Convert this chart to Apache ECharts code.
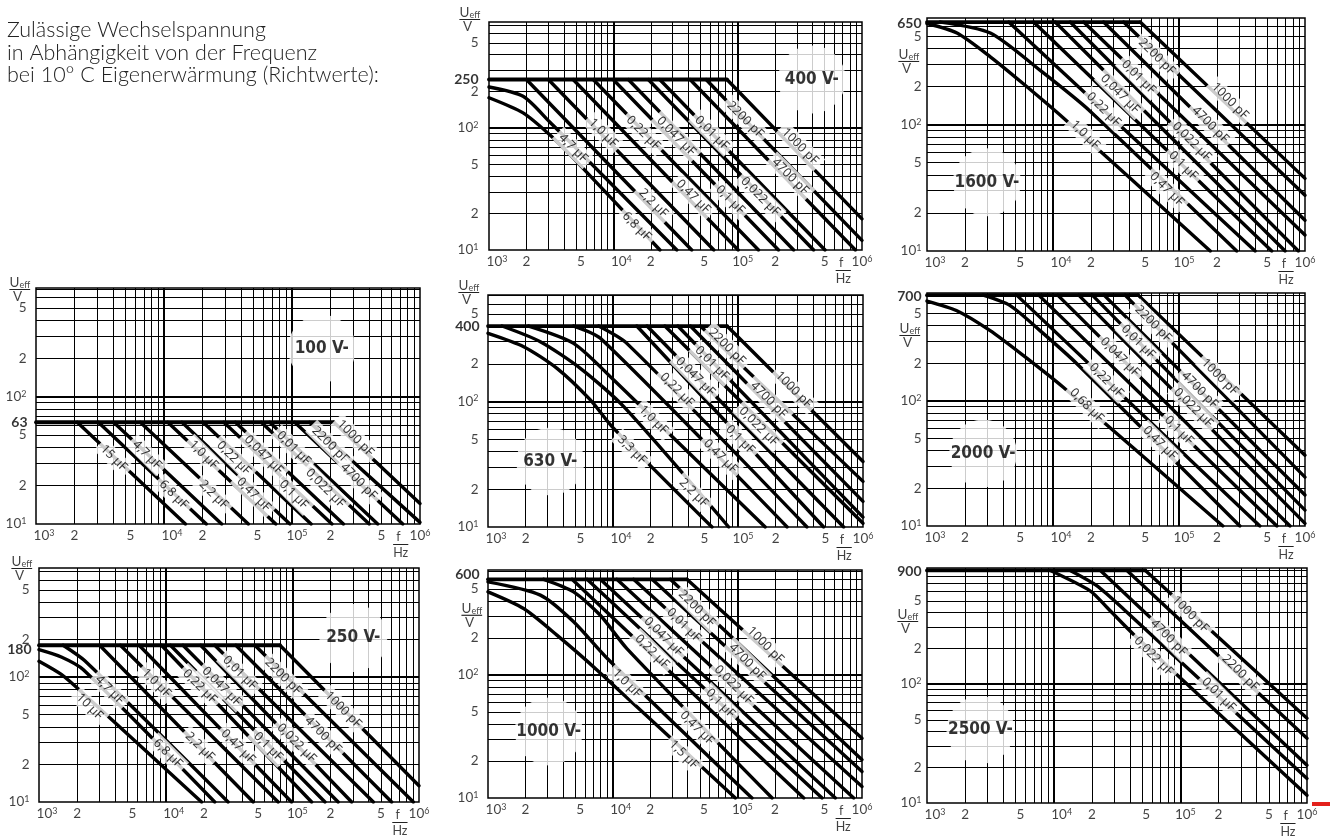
<!DOCTYPE html>
<html><head><meta charset="utf-8">
<script src="https://cdn.jsdelivr.net/npm/echarts@6/dist/echarts.min.js"></script>
<style>html,body{margin:0;padding:0;background:#fff}#c{width:1330px;height:836px}</style>
</head><body><div id="c"></div>
<script>
// ---------- shared axis ticks / grid values ----------
const F_TICKS = [1e3, 2e3, 5e3, 1e4, 2e4, 5e4, 1e5, 2e5, 5e5, 1e6];
const F_TICK_TEXT = ['10{s|3}', '2', '5', '10{s|4}', '2', '5', '10{s|5}', '2', '5', '10{s|6}'];
const U_TICKS = [10, 20, 50, 100, 200, 500];
const U_TICK_TEXT = ['10{s|1}', '2', '5', '10{s|2}', '2', '5'];
const F_GRID = [2e3,3e3,4e3,5e3,6e3,7e3,8e3,9e3,1e4,2e4,3e4,4e4,5e4,6e4,7e4,8e4,9e4,1e5,2e5,3e5,4e5,5e5,6e5,7e5,8e5,9e5];
const F_GRID_MAJOR = [1e4, 1e5];
const U_GRID = [20,30,40,50,60,70,80,90,100,200,300,400,500,600,700,800,900];
const U_GRID_MAJOR = [100];
const F_UNIT_AT = 700000;

// ---------- 400 V- ----------
const P400_TITLE = '400 V-';
const P400_UMAX = 250;
const P400_FLAT = [[1000, 250], [82000, 250]];
const P400_NAMES = ['1000 pF','2200 pF','4700 pF','0,01 µF','0,022 µF','0,047 µF','0,1 µF','0,22 µF','0,47 µF','1,0 µF','2,2 µF','4,7 µF','6,8 µF'];
const P400_CURVES = [
  [[82000,250],[1e6,18]],
  [[55700,250],[1e6,12]],
  [[41400,250],[885000,10]],
  [[23600,250],[504000,10]],
  [[19100,250],[408000,10]],
  [[13200,250],[282000,10]],
  [[9970,250],[213000,10]],
  [[6890,250],[147000,10]],
  [[4750,250],[101000,10]],
  [[3000,250],[64300,10]],
  [[2000,250],[42700,10]],
  [[1000,217],[1880,182],[3080,112],[4750,72],[32400,10]],
  [[1000,177],[1880,133],[3080,88],[4750,57],[23700,10]]
];
const P400_LABEL_AT = [[318000,70.6],[115000,117],[265000,40],[62000,91],[152000,27.4],[32000,85.5],[87000,25.8],[17400,91],[44000,27.4],[8300,91],[21000,24.2],[4750,68.5],[15400,15.6]];

// ---------- 1600 V- ----------
const P1600_TITLE = '1600 V-';
const P1600_UMAX = 650;
const P1600_FLAT = [[1000, 650], [49200, 650]];
const P1600_NAMES = ['1000 pF','2200 pF','4700 pF','0,01 µF','0,022 µF','0,047 µF','0,1 µF','0,22 µF','0,47 µF','1,0 µF'];
const P1600_CURVES = [
  [[49200,650],[1e6,37.6]],
  [[36300,650],[1e6,27.6]],
  [[25200,650],[1e6,17.5]],
  [[17500,650],[1e6,13.4]],
  [[13700,650],[886000,10]],
  [[10400,650],[695000,10]],
  [[7010,650],[544000,10]],
  [[4450,650],[402000,10]],
  [[1276,650],[3180,532],[7920,269],[19700,128],[287000,10]],
  [[1000,633],[1730,532],[3180,345],[5850,210],[12100,113],[177000,10]]
];
const P1600_LABEL_AT = [[254000,154],[66700,345],[177000,100],[47800,238],[126000,73.5],[34100,175],[108000,47.5],[25200,132],[80000,30.8],[18000,83]];

// ---------- 100 V- ----------
const P100_TITLE = '100 V-';
const P100_UMAX = 63;
const P100_FLAT = [[1000, 63], [212000, 63]];
const P100_NAMES = ['1000 pF','2200 pF','4700 pF','0,01 µF','0,022 µF','0,047 µF','0,1 µF','0,22 µF','0,47 µF','1,0 µF','2,2 µF','4,7 µF','6,8 µF','15 µF'];
const P100_CURVES = [
  [[212000,63],[1e6,14.5]],
  [[137000,63],[1e6,10.3]],
  [[105000,63],[733000,10]],
  [[66900,63],[467000,10]],
  [[57500,63],[401000,10]],
  [[36100,63],[252000,10]],
  [[29300,63],[205000,10]],
  [[20200,63],[141000,10]],
  [[13800,63],[96300,10]],
  [[10700,63],[74700,10]],
  [[6530,63],[45600,10]],
  [[4040,63],[28200,10]],
  [[3070,63],[21400,10]],
  [[2100,63],[14700,10]]
];
const P100_LABEL_AT = [[313000,47.2],[199000,41.8],[332000,21.6],[103000,39.4],[182000,19.1],[60100,34.9],[103000,17],[35000,32.9],[50200,17],[20400,34.9],[24400,17],[7360,34.9],[11900,17],[4050,32.9]];

// ---------- 630 V- ----------
const P630_TITLE = '630 V-';
const P630_UMAX = 400;
const P630_FLAT = [[1000, 400], [81700, 400]];
const P630_NAMES = ['1000 pF','2200 pF','4700 pF','0,01 µF','0,022 µF','0,047 µF','0,1 µF','0,22 µF','0,47 µF','1,0 µF','2,2 µF','3,3 µF'];
const P630_CURVES = [
  [[81700,400],[1e6,33.3]],
  [[50000,400],[1e6,23.1]],
  [[41600,400],[1e6,16]],
  [[33000,400],[1e6,12]],
  [[26000,400],[1e6,10.7]],
  [[18700,400],[700000,10]],
  [[15500,400],[484000,10]],
  [[7674,400],[12900,291],[356000,10]],
  [[4842,400],[7930,319],[247000,10]],
  [[2113,400],[4842,291],[10100,149],[165000,10]],
  [[1294,400],[2620,300],[5480,184],[12200,91],[84200,10]],
  [[1000,350],[1930,274],[3565,184],[6590,103],[9820,63.2],[61900,10]]
];
const P630_LABEL_AT = [[279000,124],[81700,274],[176000,103],[61900,202],[146000,63.2],[45600,158],[104000,49.6],[32500,124],[72300,36.5],[21100,71.4],[44200,18.7],[14200,41.2]];

// ---------- 2000 V- ----------
const P2000_TITLE = '2000 V-';
const P2000_UMAX = 700;
const P2000_FLAT = [[1000, 700], [47400, 700]];
const P2000_NAMES = ['1000 pF','2200 pF','4700 pF','0,01 µF','0,022 µF','0,047 µF','0,1 µF','0,22 µF','0,47 µF','0,68 µF'];
const P2000_CURVES = [
  [[47400,700],[1e6,36.8]],
  [[37300,700],[1e6,24.6]],
  [[25400,700],[1e6,17.7]],
  [[20500,700],[1e6,13.4]],
  [[16000,700],[1e6,10.5]],
  [[10900,700],[760000,10]],
  [[7700,700],[598000,10]],
  [[5150,700],[438000,10]],
  [[2790,700],[4540,580],[7850,366],[15400,199],[304000,10]],
  [[1000,628],[1710,528],[3150,366],[5800,231],[12000,129],[223000,10]]
];
const P2000_LABEL_AT = [[211000,155],[62400,414],[146000,122],[47400,296],[130000,88],[33900,224],[100000,58],[26500,146],[70500,45.9],[18500,92]];

// ---------- 250 V- ----------
const P250_TITLE = '250 V-';
const P250_UMAX = 180;
const P250_FLAT = [[1000, 180], [79800, 180]];
const P250_NAMES = ['1000 pF','2200 pF','4700 pF','0,01 µF','0,022 µF','0,047 µF','0,1 µF','0,22 µF','0,47 µF','1,0 µF','2,2 µF','4,7 µF','6,8 µF','10 µF'];
const P250_CURVES = [
  [[79800,180],[1e6,13.5]],
  [[50600,180],[902000,10]],
  [[35800,180],[608000,10]],
  [[24400,180],[436000,10]],
  [[18900,180],[294000,10]],
  [[13700,180],[230000,10]],
  [[10900,180],[181000,10]],
  [[9260,180],[142000,10]],
  [[6170,180],[98600,10]],
  [[4390,180],[77300,10]],
  [[3010,180],[49100,10]],
  [[1550,180],[2300,135],[31100,10]],
  [[1000,166],[1500,145],[2230,115],[24400,10]],
  [[1000,134],[1500,105],[2200,75],[19200,10]]
];
const P250_LABEL_AT = [[252000,54.7],[84700,101],[175000,34.4],[38500,108],[108000,29.6],[27600,84.1],[64400,27.8],[18600,84.1],[37300,27.8],[8450,89.6],[18600,27.8],[3610,79],[10400,24.5],[2510,58]];

// ---------- 1000 V- ----------
const P1000_TITLE = '1000 V-';
const P1000_UMAX = 600;
const P1000_FLAT = [[1000, 600], [39400, 600]];
const P1000_NAMES = ['1000 pF','2200 pF','4700 pF','0,01 µF','0,022 µF','0,047 µF','0,1 µF','0,22 µF','0,47 µF','1,0 µF','1,5 µF'];
const P1000_CURVES = [
  [[39400,600],[1e6,30.6]],
  [[29000,600],[1e6,20.5]],
  [[20700,600],[1e6,16.4]],
  [[14700,600],[1e6,12.4]],
  [[10800,600],[857000,10]],
  [[7960,600],[611000,10]],
  [[6230,600],[478000,10]],
  [[4720,600],[341000,10]],
  [[2800,600],[4860,474],[7960,306],[13000,164],[190000,10]],
  [[1000,571],[2630,446],[4860,271],[9020,137],[131000,10]],
  [[1000,474],[1930,347],[3570,211],[7480,110],[96400,10]]
];
const P1000_LABEL_AT = [[168000,175],[47400,347],[120000,128],[37200,254],[93500,83],[25600,205],[73100,58.9],[20700,155],[47400,37],[13000,85.5],[37200,22.5]];

// ---------- 2500 V- ----------
const P2500_TITLE = '2500 V-';
const P2500_UMAX = 900;
const P2500_FLAT = [[1000, 900], [53000, 900]];
const P2500_NAMES = ['1000 pF','2200 pF','4700 pF','0,01 µF','0,022 µF'];
const P2500_CURVES = [
  [[53000,900],[1e6,51.6]],
  [[37900,900],[1e6,35]],
  [[23400,900],[1e6,20.8]],
  [[13500,900],[22000,668],[35700,425],[1e6,16.1]],
  [[9420,900],[19400,607],[26400,439],[42800,261],[1e6,11.6]]
];
const P2500_LABEL_AT = [[120000,386],[298000,124],[80900,245],[201000,81.3],[61500,171]];

// ---------- assemble ----------
const PANELS = [
  {title:P400_TITLE, umax:P400_UMAX, flat:P400_FLAT, names:P400_NAMES, curves:P400_CURVES, labelAt:P400_LABEL_AT},
  {title:P1600_TITLE, umax:P1600_UMAX, flat:P1600_FLAT, names:P1600_NAMES, curves:P1600_CURVES, labelAt:P1600_LABEL_AT},
  {title:P100_TITLE, umax:P100_UMAX, flat:P100_FLAT, names:P100_NAMES, curves:P100_CURVES, labelAt:P100_LABEL_AT},
  {title:P630_TITLE, umax:P630_UMAX, flat:P630_FLAT, names:P630_NAMES, curves:P630_CURVES, labelAt:P630_LABEL_AT},
  {title:P2000_TITLE, umax:P2000_UMAX, flat:P2000_FLAT, names:P2000_NAMES, curves:P2000_CURVES, labelAt:P2000_LABEL_AT},
  {title:P250_TITLE, umax:P250_UMAX, flat:P250_FLAT, names:P250_NAMES, curves:P250_CURVES, labelAt:P250_LABEL_AT},
  {title:P1000_TITLE, umax:P1000_UMAX, flat:P1000_FLAT, names:P1000_NAMES, curves:P1000_CURVES, labelAt:P1000_LABEL_AT},
  {title:P2500_TITLE, umax:P2500_UMAX, flat:P2500_FLAT, names:P2500_NAMES, curves:P2500_CURVES, labelAt:P2500_LABEL_AT}
];

// layout (pixels) and label placement per panel
const LAYOUT = [
  {left:489, top:22,  width:373, height:228, ymax:740, blob:[395000,250], ueff:null, ueffOff:[-29,-2], ydist:10, umaxDist:10, umaxOff:[0,0]},
  {left:927, top:18,  width:378, height:233, ymax:700, blob:[2990,35],    ueff:314,  ueffOff:[-28,0],  ydist:5,  umaxDist:5,  umaxOff:[0,1]},
  {left:36,  top:288, width:384, height:236, ymax:715, blob:[171000,239], ueff:null, ueffOff:[-26,2],  ydist:9,  umaxDist:8,  umaxOff:[0,0]},
  {left:488, top:295, width:375, height:232, ymax:707, blob:[3150,33.3],  ueff:null, ueffOff:[-29,-2], ydist:9,  umaxDist:8,  umaxOff:[0,0]},
  {left:927, top:293, width:378, height:233, ymax:728, blob:[2790,38],    ueff:330,  ueffOff:[-27,0],  ydist:5,  umaxDist:5,  umaxOff:[0,1]},
  {left:39,  top:568, width:380, height:234, ymax:748, blob:[303000,206], ueff:null, ueffOff:[-27,1],  ydist:9,  umaxDist:7,  umaxOff:[0,4]},
  {left:488, top:570, width:374, height:228, ymax:714, blob:[3070,34.8],  ueff:303,  ueffOff:[-26,0],  ydist:9,  umaxDist:8,  umaxOff:[0,-5]},
  {left:927, top:568, width:380, height:235, ymax:944, blob:[2640,41.1],  ueff:332,  ueffOff:[-29,0],  ydist:5,  umaxDist:5,  umaxOff:[0,1]}
];
// horizontal nudge of the frequency tick labels (the powers of ten start at their tick)
const X_LABEL_NUDGE = [8, 0, 5, 8, 0, 4, 5, 0, 0, 0];

const FONT = 'Lato, "Noto Sans", sans-serif';
const LABEL_FONT = '"Noto Sans", Lato, sans-serif';
const COND = '"DejaVu Sans Condensed", "Liberation Sans Narrow", "DejaVu Sans", sans-serif';
const SUP = {fontSize: 9, lineHeight: 9, verticalAlign: 'top'};

function textSeries(i, data, label, z) {
  return {
    type: 'scatter', xAxisIndex: i, yAxisIndex: i, data: data,
    symbol: 'circle', symbolSize: 1, itemStyle: {color: 'rgba(0,0,0,0)'},
    silent: true, clip: false, animation: false, z: z || 6,
    emphasis: {disabled: true},
    label: Object.assign({show: true, formatter: function (p) { return p.name; }, color: '#111', fontFamily: FONT}, label)
  };
}

const grids = [], xAxes = [], yAxes = [], series = [];
PANELS.forEach(function (p, i) {
  const L = LAYOUT[i];
  grids.push({left: L.left, top: L.top, width: L.width, height: L.height, show: true,
    borderColor: '#000', borderWidth: 1.5, backgroundColor: '#fff', containLabel: false, outerBoundsMode: 'none'});
  const axisOff = {axisLine: {show: false}, axisTick: {show: false}, axisLabel: {show: false}, splitLine: {show: false}, minorTick: {show: false}};
  xAxes.push(Object.assign({type: 'log', logBase: 10, gridIndex: i, min: 1000, max: 1e6}, axisOff));
  yAxes.push(Object.assign({type: 'log', logBase: 10, gridIndex: i, min: 10, max: L.ymax}, axisOff));

  // grid lines
  const uGrid = U_GRID.filter(function (u) { return u < L.ymax; });
  series.push({
    type: 'line', xAxisIndex: i, yAxisIndex: i, data: [[1000, 10]], symbol: 'none',
    lineStyle: {width: 0}, silent: true, animation: false, z: 1,
    markLine: {
      silent: true, z: 1, symbol: ['none', 'none'], animation: false,
      label: {show: false}, emphasis: {disabled: true},
      lineStyle: {color: '#000', width: 1, type: 'solid'},
      data: F_GRID.map(function (f) { return {xAxis: f, lineStyle: {color: '#000', type: 'solid', width: F_GRID_MAJOR.indexOf(f) >= 0 ? 2 : 1}}; })
        .concat(uGrid.map(function (u) { return {yAxis: u, lineStyle: {color: '#000', type: 'solid', width: U_GRID_MAJOR.indexOf(u) >= 0 ? 2.2 : 1}}; }))
    }
  });

  // panel title blob
  series.push({
    type: 'scatter', xAxisIndex: i, yAxisIndex: i, data: [{value: L.blob, name: p.title}],
    symbol: 'circle', symbolSize: 68, itemStyle: {color: '#fff'}, silent: true, clip: false, animation: false, z: 2,
    emphasis: {disabled: true},
    label: {show: true, position: 'inside', formatter: function (q) { return q.name; },
      fontFamily: COND, fontWeight: 'bold', fontSize: 17, color: '#000'}
  });

  // curves
  p.curves.forEach(function (pts) {
    series.push({type: 'line', xAxisIndex: i, yAxisIndex: i, data: pts, symbol: 'none',
      smooth: pts.length > 2 ? 0.25 : false, silent: true, animation: false, z: 3,
      lineStyle: {color: '#000', width: 3.4, cap: 'round', join: 'round'}});
  });
  series.push({type: 'line', xAxisIndex: i, yAxisIndex: i, data: p.flat, symbol: 'none', silent: true, animation: false, z: 3,
    lineStyle: {color: '#000', width: 3.8, cap: 'round'}});

  // curve labels
  series.push(textSeries(i, p.names.map(function (n, k) { return {value: p.labelAt[k], name: n}; }),
    {position: 'inside', rotate: -45, backgroundColor: '#fff', padding: [2, 4], fontSize: 12.5, color: '#000', fontFamily: LABEL_FONT}, 7));

  // tick labels
  series.push(textSeries(i, F_TICKS.map(function (f, k) {
      return {value: [f, 10], name: F_TICK_TEXT[k], label: {offset: [X_LABEL_NUDGE[k], 0]}};
    }),
    {position: 'bottom', distance: 4, fontSize: 13.5, lineHeight: 15, rich: {s: SUP}}, 6));
  series.push(textSeries(i, U_TICKS.map(function (u, k) { return {value: [1000, u], name: U_TICK_TEXT[k]}; }),
    {position: 'left', distance: L.ydist, fontSize: 13.5, lineHeight: 15, rich: {s: SUP}}, 6));

  // max voltage label
  series.push(textSeries(i, [{value: [1000, p.umax], name: String(p.umax)}],
    {position: 'left', distance: L.umaxDist, offset: L.umaxOff, fontWeight: 'bold', fontSize: 14, color: '#000'}, 6));

  // axis titles (fraction U_eff / V and f / Hz)
  series.push(textSeries(i, [{value: [1000, L.ueff || L.ymax], name: '{u|U}{e|eff}\n{hr|}\n{v| V}'}],
    {position: 'left', distance: 0, align: 'left', verticalAlign: 'middle', offset: L.ueffOff,
     rich: {u: {fontSize: 13.5, lineHeight: 14}, v: {fontSize: 13.5, lineHeight: 15},
            e: {fontSize: 9, lineHeight: 12, verticalAlign: 'bottom'},
            hr: {width: '100%', height: 0, borderColor: '#000', borderWidth: 0.8}}}, 6));
  series.push(textSeries(i, [{value: [F_UNIT_AT, 10], name: '{f| f}\n{hr|}\n{u|Hz}'}],
    {position: 'bottom', distance: 4, align: 'left', offset: [-7, 0],
     rich: {f: {fontSize: 12.5, lineHeight: 16}, u: {fontSize: 12.5, lineHeight: 17},
            hr: {width: '100%', height: 0, borderColor: '#000', borderWidth: 0.8}}}, 6));
});

const chart = echarts.init(document.getElementById('c'), null, {renderer: 'canvas', width: 1330, height: 836});
chart.setOption({
  animation: false,
  backgroundColor: '#fff',
  textStyle: {fontFamily: FONT},
  grid: grids, xAxis: xAxes, yAxis: yAxes, series: series,
  graphic: [
    {type: 'text', left: 7, top: 19, silent: true,
     style: {text: 'Zulässige Wechselspannung\nin Abhängigkeit von der Frequenz\nbei 10° C Eigenerwärmung (Richtwerte):',
             fontFamily: FONT, fontWeight: 300, fontSize: 21.5, lineHeight: 22.5, fill: '#222'}},
    {type: 'rect', left: 1312, top: 802, silent: true, shape: {width: 18, height: 4}, style: {fill: '#e3211c'}}
  ]
});
</script></body></html>
